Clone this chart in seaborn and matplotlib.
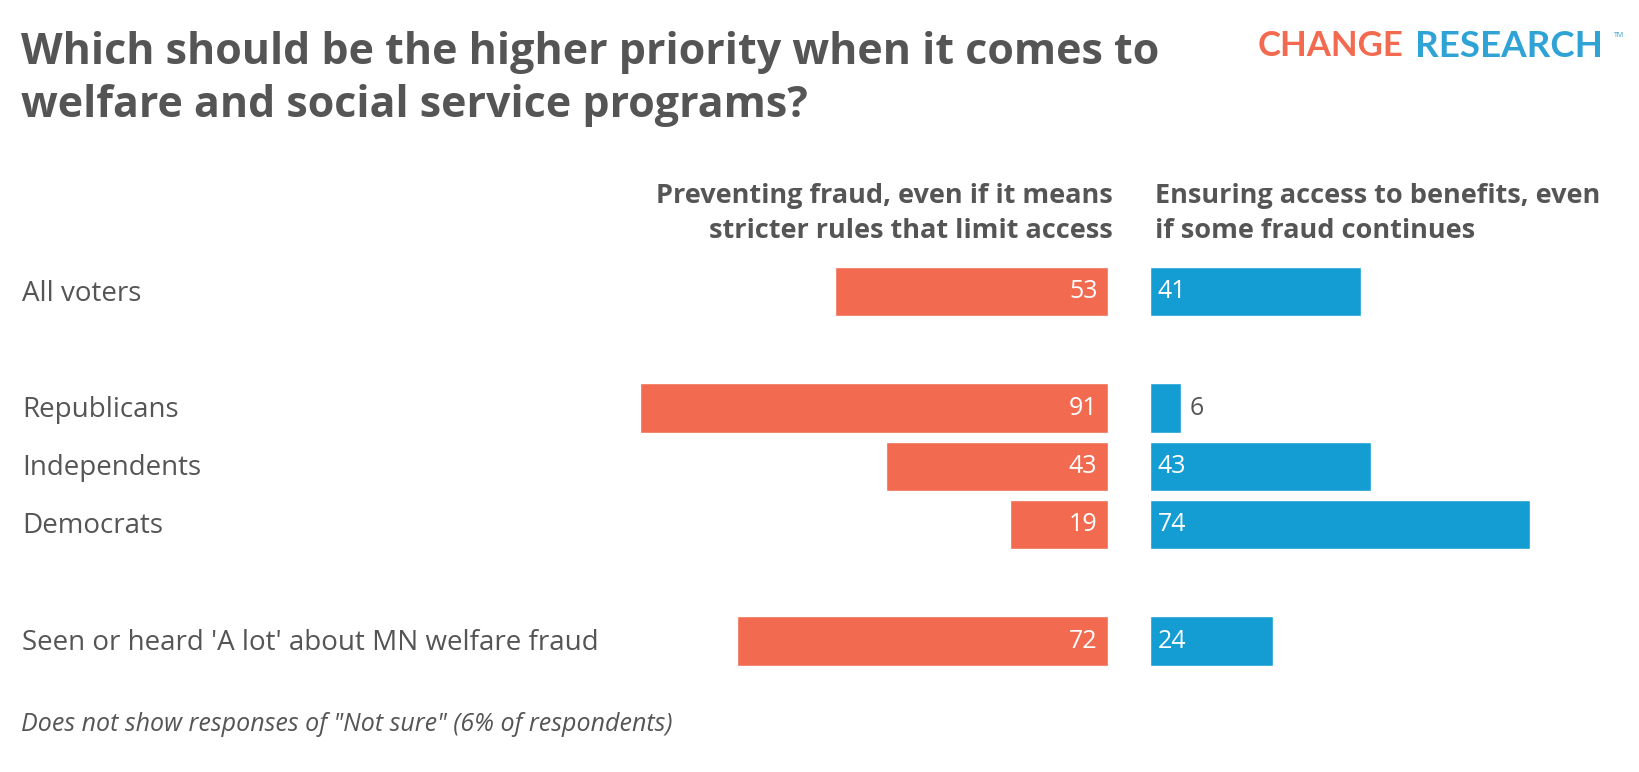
import matplotlib.pyplot as plt
import seaborn as sns

groups = ["All voters", "Republicans", "Independents", "Democrats",
          "Seen or heard 'A lot' about MN welfare fraud"]
rows = [0, 2, 3, 4, 6]
fraud = [53, 91, 43, 19, 72]
access = [41, 6, 43, 74, 24]

RED = "#F26B50"
BLUE = "#139DD3"
GREY = "#555555"

sns.set_theme(style="white")
plt.rcParams["font.family"] = ["Open Sans", "DejaVu Sans"]

fig = plt.figure(figsize=(16.4, 7.72), dpi=100)
W, H = 1562, 735  # layout measured in this frame


def fx(x):
    return x / W


def fy(y):
    return 1 - y / H


bottom, height = fy(638), (638 - 250) / H
axl = fig.add_axes([fx(565), bottom, fx(490), height])
axr = fig.add_axes([fx(1095), bottom, fx(490), height])

sns.barplot(x=fraud, y=rows, orient="y", native_scale=True, color=RED,
            width=0.85, saturation=1, ax=axl)
sns.barplot(x=access, y=rows, orient="y", native_scale=True, color=BLUE,
            width=0.85, saturation=1, ax=axr)

axl.set_xlim(100, 0)
axr.set_xlim(0, 100)
for ax in (axl, axr):
    ax.set_ylim(6.5, -0.5)
    ax.axis("off")

for r, v in zip(rows, fraud):
    axl.text(2, r, str(v), color="white", fontsize=18, ha="right", va="center")
for r, v in zip(rows, access):
    if v >= 10:
        axr.text(1.5, r, str(v), color="white", fontsize=18, ha="left", va="center")
    else:
        axr.text(v + 1.8, r, str(v), color=GREY, fontsize=18, ha="left", va="center")

for r, g in zip(rows, groups):
    y = 280 + r * 55.3
    fig.text(fx(21), fy(y), g, color=GREY, fontsize=20, ha="left", va="center")

fig.text(fx(20), fy(75), "Which should be the higher priority when it comes to\nwelfare and social service programs?",
         color=GREY, fontsize=31, fontweight="bold", ha="left", va="center",
         linespacing=1.3)
fig.text(fx(1060), fy(203), "Preventing fraud, even if it means\nstricter rules that limit access",
         color=GREY, fontsize=19.5, fontweight="bold", ha="right", va="center",
         linespacing=1.45)
fig.text(fx(1100), fy(203), "Ensuring access to benefits, even\nif some fraud continues",
         color=GREY, fontsize=19.5, fontweight="bold", ha="left", va="center",
         linespacing=1.45)
fig.text(fx(20), fy(690), "Does not show responses of \"Not sure\" (6% of respondents)",
         color=GREY, fontsize=18, fontstyle="italic", ha="left", va="center")

fig.text(fx(1337), fy(44), "CHANGE", color=RED, fontsize=25, fontweight="bold",
         family=["Lato", "DejaVu Sans"], ha="right", va="center")
fig.text(fx(1348), fy(44), "RESEARCH", color="#2FA3D6", fontsize=26.5,
         fontweight="bold", family=["Lato", "DejaVu Sans"], ha="left", va="center")
fig.text(fx(1537), fy(34), "TM", color="#2FA3D6", fontsize=5, ha="left", va="center")

fig.savefig("out.png", dpi=100, facecolor="white")
